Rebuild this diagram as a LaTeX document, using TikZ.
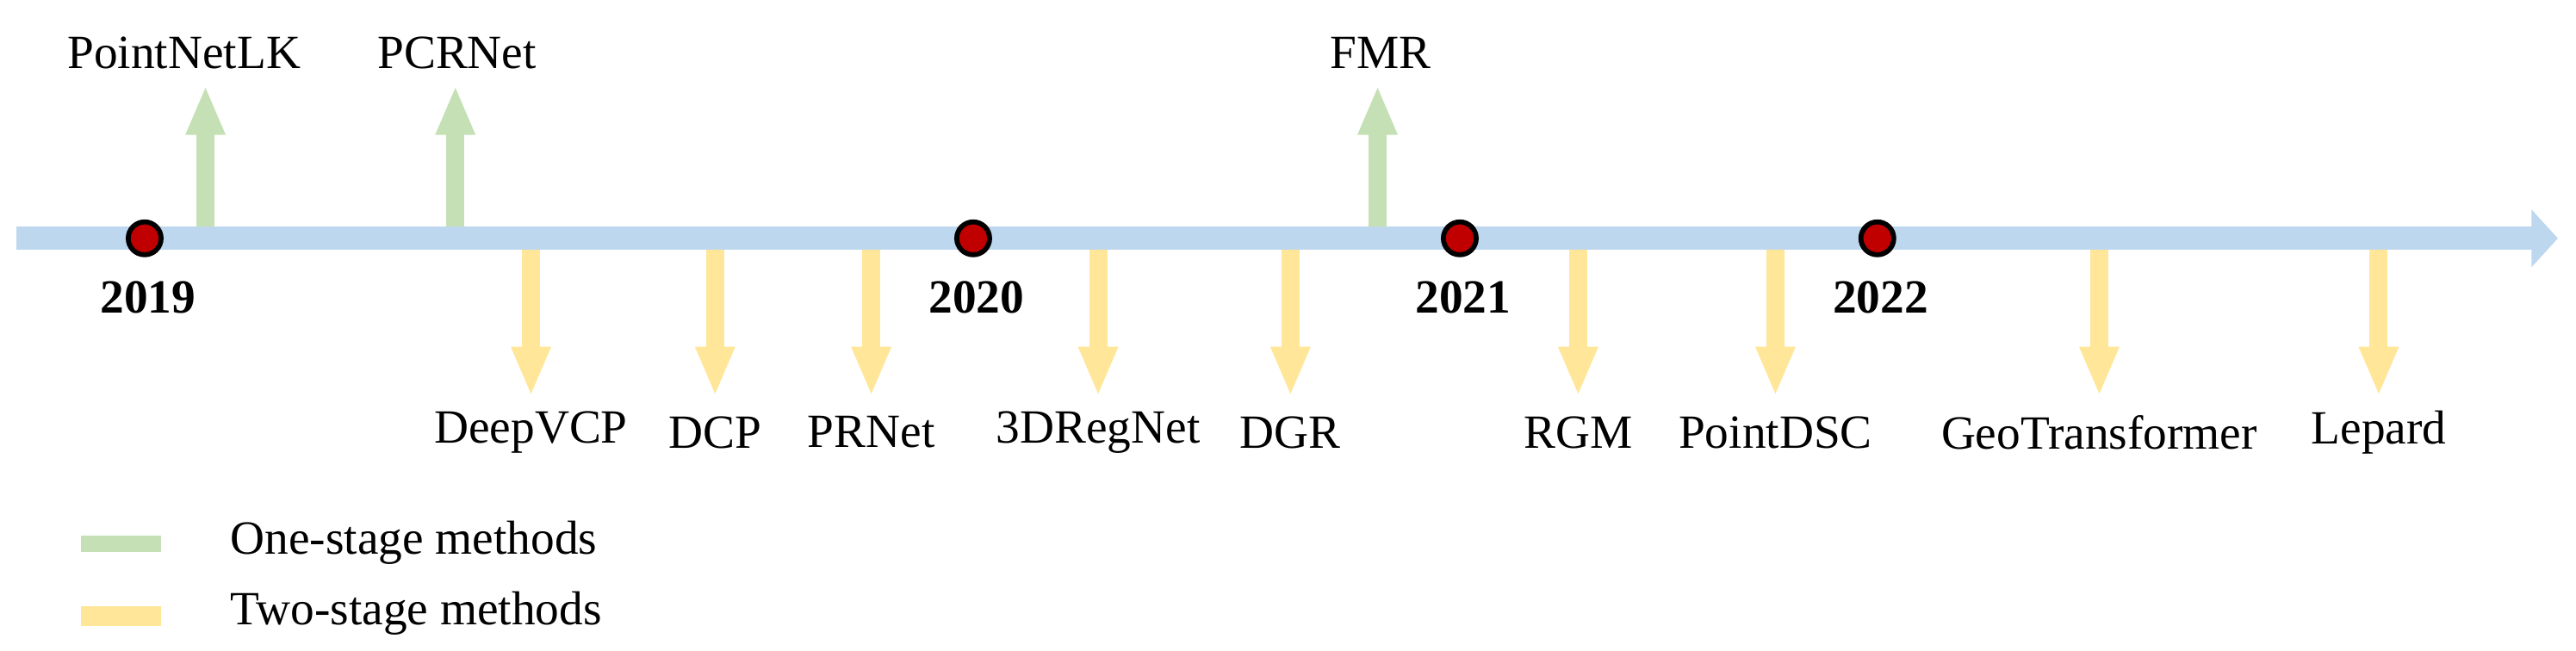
\documentclass[tikz,border=0pt]{standalone}
\usepackage{fontspec}
\setmainfont{Liberation Serif}
\usetikzlibrary{arrows.meta}
\definecolor{barblue}{HTML}{BDD7EE}
\definecolor{ongreen}{HTML}{C5E0B4}
\definecolor{twoyel}{HTML}{FFE699}
\definecolor{dotred}{HTML}{C00000}
\begin{document}
\begin{tikzpicture}[x=1pt,y=-1pt,
  lbl/.style={font=\fontsize{29}{32}\selectfont, inner sep=0pt},
  yr/.style={font=\fontsize{29}{32}\selectfont\bfseries, inner sep=0pt},
  dotc/.style={circle, fill=dotred, draw=black, line width=3pt, minimum size=20pt, inner sep=0pt},
  uparr/.style={draw=ongreen, line width=11pt, -{Triangle[length=30pt,width=22pt]}},
  dnarr/.style={draw=twoyel, line width=11pt, -{Triangle[length=30pt,width=22pt]}}]
\useasboundingbox (0,0) rectangle (1567,396);
% main bar
\coordinate (b0) at (10,145);
\coordinate (b1) at (1556,145);
\draw[draw=barblue, line width=14pt, -{Triangle[length=16pt,width=34pt]}] (b0) -- (b1);
% up arrows (one-stage)
\foreach \n/\x/\t in {pn/125/PointNetLK, pc/277/PCRNet, fm/838/FMR}{
  \coordinate (\n s) at (\x,138);
  \coordinate (\n e) at (\x,52);
  \draw[uparr] (\n s) -- (\n e);
}
\node[lbl] (tpn) at (112,32) {PointNetLK};
\node[lbl] (tpc) at (278,32) {PCRNet};
\node[lbl] (tfm) at (840,32) {FMR};
% down arrows (two-stage)
\foreach \n/\x/\t in {dv/323/DeepVCP, dc/435/DCP, pr/530/PRNet, rg/668/3DRegNet, dg/785/DGR, rm/960/RGM, ps/1080/PointDSC, gt/1277/GeoTransformer, lp/1447/Lepard}{
  \coordinate (\n s) at (\x,152);
  \coordinate (\n e) at (\x,241);
  \draw[dnarr] (\n s) -- (\n e);
  \node[lbl] (t\n) at (\x,263) {\t};
}
% year dots
\foreach \n/\x/\y in {a/88/2019, b/592/2020, c/888/2021, d/1142/2022}{
  \node[dotc] (d\n) at (\x,145) {};
  \node[yr] (y\n) at (\x+2,181) {\y};
}
% legend
\fill[ongreen] (49,326) rectangle (98,336);
\fill[twoyel] (49,369) rectangle (98,381);
\node[lbl, anchor=west] (l1) at (140,330) {One-stage methods};
\node[lbl, anchor=west] (l2) at (140,373) {Two-stage methods};
\end{tikzpicture}
\end{document}
